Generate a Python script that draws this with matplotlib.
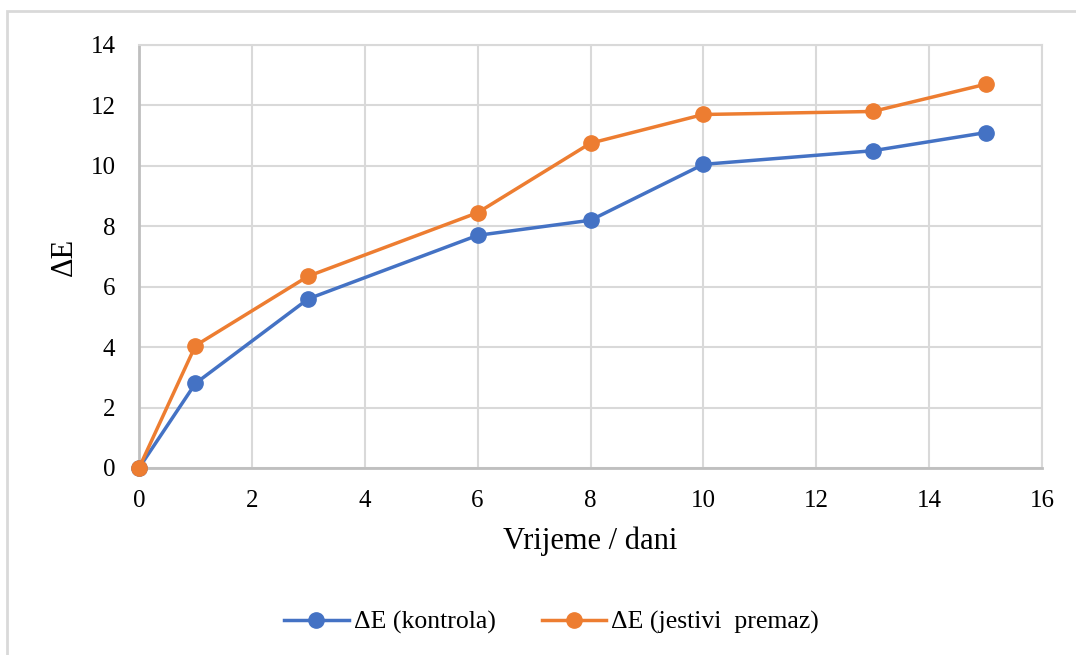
import matplotlib.pyplot as plt
from matplotlib.patches import Rectangle

days = [0, 1, 3, 6, 8, 10, 13, 15]
de_kontrola = [0, 2.8, 5.6, 7.7, 8.2, 10.05, 10.5, 11.1]
de_premaz = [0, 4.05, 6.35, 8.45, 10.75, 11.7, 11.8, 12.7]

xticks = [0, 2, 4, 6, 8, 10, 12, 14, 16]
yticks = [0, 2, 4, 6, 8, 10, 12, 14]

plt.rcParams['font.family'] = ['Liberation Serif', 'DejaVu Serif']

W, H = 1076, 655
fig = plt.figure(figsize=(W / 100, H / 100), dpi=100)

# outer chart frame (runs off the right/bottom edge)
fig.patches.append(Rectangle((7 / W, -0.1), 1.2, 1 - 11 / H + 0.1,
                             transform=fig.transFigure, fill=False,
                             edgecolor='#d9d9d9', linewidth=2))

ax = fig.add_axes([139 / W, 1 - 468 / H, (1042 - 139) / W, (468 - 45) / H])

ax.plot(days, de_kontrola, color='#4472c4', lw=2.5, marker='o', ms=11,
        label='ΔE (kontrola)', zorder=3, clip_on=False)
ax.plot(days, de_premaz, color='#ed7d31', lw=2.5, marker='o', ms=11,
        label='ΔE (jestivi  premaz)', zorder=4, clip_on=False)

ax.set_xlim(0, 16)
ax.set_ylim(0, 14)
ax.set_xticks(xticks)
ax.set_yticks(yticks)
ax.tick_params(length=0, labelsize=18, colors='#000000')
ax.tick_params(axis='x', pad=16)
ax.tick_params(axis='y', pad=17)
ax.grid(True, color='#d9d9d9', lw=1.5)
ax.set_axisbelow(True)
for s in ['top', 'right']:
    ax.spines[s].set_color('#d9d9d9')
    ax.spines[s].set_linewidth(1.5)
for s in ['left', 'bottom']:
    ax.spines[s].set_color('#bfbfbf')
    ax.spines[s].set_linewidth(2)

ax.set_xlabel('Vrijeme / dani', fontsize=22, labelpad=10)
ax.set_ylabel('ΔE', fontsize=22, labelpad=8)

ax.legend(loc='center', bbox_to_anchor=(0.457, -0.365), ncol=2, frameon=False,
          fontsize=18.5, handlelength=2.5, columnspacing=1.8, handletextpad=0.2)

fig.savefig('out.png', dpi=100)
